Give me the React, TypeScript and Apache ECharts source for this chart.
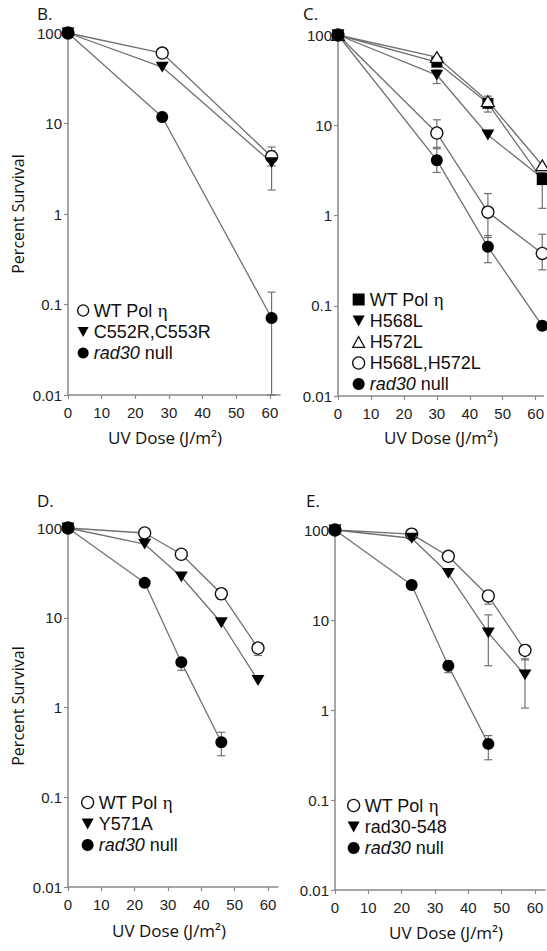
import React, { useEffect, useRef } from 'react';
import * as echarts from 'echarts';

// ---------- Data ----------
// Panel B
const bDose = [0, 28, 60.5];
const bWT = [100, 60, 4.3];
const bC552 = [100, 42, 3.7];
const bRad30 = [100, 11.8, 0.071];
const bErr = [
  [60.5, 3.4, 5.5],
  [60.5, 1.84, 5.0],
  [60.5, 0.01, 0.137],
];

// Panel C
const cDose = [0, 30, 45.5, 62];
const cWT = [100, 50, 17.5, 2.5];
const cH568 = [100, 36, 7.8, 2.6];
const cH572 = [100, 57, 18.5, 3.6];
const cH568H572 = [100, 8.2, 1.09, 0.38];
const cRad30 = [100, 4.1, 0.45, 0.06];
const cErr = [
  [30, 45, 56],
  [45.5, 14, 21],
  [30, 29, 41],
  [30, 5.7, 11.5],
  [45.5, 0.57, 1.75],
  [62, 0.25, 0.62],
  [30, 3.0, 5.5],
  [45.5, 0.3, 0.6],
  [62, 1.2, 3.0],
];

// Panel D
const dDose = [0, 23, 34, 46, 57];
const dWT = [100, 88, 51, 18.5, 4.6];
const dY571A = [100, 66, 28.6, 8.8, 2.0];
const dRad30 = [100, 24.5, 3.2, 0.41];
const dErr = [
  [46, 16, 21],
  [57, 3.8, 5.2],
  [34, 2.6, 3.5],
  [46, 0.29, 0.53],
];

// Panel E
const eDose = [0, 23, 34, 46, 57];
const eWT = [100, 90, 51, 18.5, 4.6];
const eRad548 = [100, 81, 33, 7.2, 2.45];
const eRad30 = [100, 24.5, 3.1, 0.42];
const eErr = [
  [46, 15, 21],
  [57, 3.6, 5.0],
  [46, 3.1, 11.4],
  [57, 1.05, 3.7],
  [34, 2.6, 3.5],
  [46, 0.28, 0.52],
];

const xTicks = [0, 10, 20, 30, 40, 50, 60];
const yTickLabels = ['0.01', '0.1', '1', '10', '100'];

// ---------- Styles ----------
const TRI_DOWN = 'path://M0,0L10,0L5,9Z';
const TRI_UP = 'path://M5,0L10,9L0,9Z';
const LINE_COLOR = '#717171';
const AXIS_COLOR = '#8a8a8a';

const mk: Record<string, any> = {
  openCircle: { symbol: 'circle', symbolSize: 12, itemStyle: { color: '#fff', borderColor: '#111', borderWidth: 1.3 } },
  dot: { symbol: 'circle', symbolSize: 12, itemStyle: { color: '#000', borderWidth: 0 } },
  down: { symbol: TRI_DOWN, symbolSize: [13, 12], itemStyle: { color: '#000', borderWidth: 0 } },
  square: { symbol: 'rect', symbolSize: 11, itemStyle: { color: '#000', borderWidth: 0 } },
  openTri: { symbol: TRI_UP, symbolSize: [13, 12], itemStyle: { color: '#fff', borderColor: '#111', borderWidth: 1.2 } },
};
const legendIcon: Record<string, string> = {
  openCircle: 'circle', dot: 'circle', down: TRI_DOWN, square: 'rect', openTri: TRI_UP,
};

const grids = [
  { left: 68, top: 33, width: 212, height: 362, xmax: 63 },
  { left: 338, top: 35, width: 209, height: 361, xmax: 62.4 },
  { left: 68, top: 528, width: 210, height: 359, xmax: 63 },
  { left: 335, top: 530, width: 210, height: 360, xmax: 63 },
];

type S = { name: string; dose: number[]; vals: number[]; m: string };
const panels: {
  series: S[];
  err: number[][];
  legend: { left: number; top: number; iw: number; ih: number; gap: number };
}[] = [
  {
    series: [
      { name: 'WT Pol η', dose: bDose, vals: bWT, m: 'openCircle' },
      { name: 'C552R,C553R', dose: bDose, vals: bC552, m: 'down' },
      { name: 'rad30 null', dose: bDose, vals: bRad30, m: 'dot' },
    ],
    err: bErr,
    legend: { left: 72, top: 296, iw: 11, ih: 11, gap: 8 },
  },
  {
    series: [
      { name: 'WT Pol η', dose: cDose, vals: cWT, m: 'square' },
      { name: 'H568L', dose: cDose, vals: cH568, m: 'down' },
      { name: 'H572L', dose: cDose, vals: cH572, m: 'openTri' },
      { name: 'H568L,H572L', dose: cDose, vals: cH568H572, m: 'openCircle' },
      { name: 'rad30 null', dose: cDose, vals: cRad30, m: 'dot' },
    ],
    err: cErr,
    legend: { left: 347, top: 285, iw: 12, ih: 12, gap: 4 },
  },
  {
    series: [
      { name: 'WT Pol η', dose: dDose, vals: dWT, m: 'openCircle' },
      { name: 'Y571A', dose: dDose, vals: dY571A, m: 'down' },
      { name: 'rad30 null', dose: dDose, vals: dRad30, m: 'dot' },
    ],
    err: dErr,
    legend: { left: 76, top: 788, iw: 12, ih: 12, gap: 6 },
  },
  {
    series: [
      { name: 'WT Pol η', dose: eDose, vals: eWT, m: 'openCircle' },
      { name: 'rad30-548', dose: eDose, vals: eRad548, m: 'down' },
      { name: 'rad30 null', dose: eDose, vals: eRad30, m: 'dot' },
    ],
    err: eErr,
    legend: { left: 342, top: 791, iw: 12, ih: 12, gap: 4 },
  },
];

const legendFmt = (name: string) => {
  if (name === 'rad30 null') return '{i|rad30} null';
  if (name === 'WT Pol η') return 'WT Pol {g|η}';
  return name;
};

function buildOption() {
  const grid: any[] = [];
  const xAxis: any[] = [];
  const yAxis: any[] = [];
  const series: any[] = [];
  const legend: any[] = [];

  grids.forEach((g, gi) => {
    grid.push({ left: g.left, top: g.top, width: g.width, height: g.height, containLabel: false });
    xAxis.push({
      type: 'value', gridIndex: gi, min: 0, max: g.xmax,
      axisLine: { lineStyle: { color: AXIS_COLOR, width: 1.5 } },
      axisTick: { show: true, length: 4, customValues: xTicks, lineStyle: { color: AXIS_COLOR, width: 1.2 } },
      axisLabel: {
        customValues: xTicks, margin: 10, fontFamily: 'Liberation Sans', fontSize: 15, color: '#222',
        formatter: (v: number) => (v % 10 === 0 ? String(v) : ''),
      },
      splitLine: { show: false },
    });
    yAxis.push({
      type: 'log', logBase: 10, gridIndex: gi, min: 0.01, max: 100,
      axisLine: { show: true, lineStyle: { color: AXIS_COLOR, width: 1.5 } },
      axisTick: { show: true, length: 4, lineStyle: { color: AXIS_COLOR, width: 1.2 } },
      axisLabel: {
        margin: 6, fontFamily: 'Liberation Sans', fontSize: 15, color: '#222',
        formatter: (v: number) => {
          const s = String(Number(v.toPrecision(3)));
          return yTickLabels.includes(s) ? s : '';
        },
      },
      splitLine: { show: false },
    });

    const p = panels[gi];
    series.push({
      type: 'custom', xAxisIndex: gi, yAxisIndex: gi, z: 2, silent: true,
      data: p.err,
      encode: { x: 0, y: [1, 2] },
      renderItem: (params: any, api: any) => {
        const x = api.value(0);
        const lo = api.value(1);
        const hi = api.value(2);
        const a = api.coord([x, hi]);
        const b = api.coord([x, lo]);
        const cap = 4;
        const st = { stroke: LINE_COLOR, lineWidth: 1.2 };
        return {
          type: 'group',
          children: [
            { type: 'line', shape: { x1: a[0], y1: a[1], x2: b[0], y2: b[1] }, style: st },
            { type: 'line', shape: { x1: a[0] - cap, y1: a[1], x2: a[0] + cap, y2: a[1] }, style: st },
            { type: 'line', shape: { x1: b[0] - cap, y1: b[1], x2: b[0] + cap, y2: b[1] }, style: st },
          ],
        };
      },
    });
    p.series.forEach((s) => {
      const m = mk[s.m];
      series.push({
        type: 'line', name: s.name, xAxisIndex: gi, yAxisIndex: gi, z: 3,
        data: s.vals.map((v, i) => [s.dose[i], v]),
        symbol: m.symbol, symbolSize: m.symbolSize, symbolKeepAspect: true,
        showAllSymbol: true,
        itemStyle: m.itemStyle,
        lineStyle: { color: LINE_COLOR, width: 1.3 },
        emphasis: { disabled: true },
      });
    });
    legend.push({
      orient: 'vertical', left: p.legend.left, top: p.legend.top,
      itemWidth: p.legend.iw, itemHeight: p.legend.ih, itemGap: 3, itemTextGap: p.legend.gap,
      selectedMode: false,
      formatter: legendFmt,
      textStyle: {
        fontFamily: 'Liberation Sans', fontSize: 18, color: '#111', lineHeight: 18,
        rich: {
          i: { fontFamily: 'Liberation Sans', fontSize: 18, fontStyle: 'italic', color: '#111', lineHeight: 18 },
          g: { fontFamily: 'Liberation Serif', fontSize: 19, color: '#111', lineHeight: 18 },
        },
      },
      data: p.series.map((s) => {
        const st = mk[s.m].itemStyle;
        return {
          name: s.name,
          icon: legendIcon[s.m],
          itemStyle: { color: st.color, borderColor: st.borderColor || st.color, borderWidth: st.borderWidth || 0 },
        };
      }),
    });
  });

  const titleFont = { fontFamily: 'Open Sans', fontSize: 16, fill: '#111' };
  const xTitle = { ...titleFont, fontSize: 17, align: 'center', verticalAlign: 'middle' };
  const graphic: any[] = [
    { type: 'text', left: 37, top: 5, style: { text: 'B.', ...titleFont, fontSize: 17 } },
    { type: 'text', left: 303, top: 5, style: { text: 'C.', ...titleFont, fontSize: 17 } },
    { type: 'text', left: 37, top: 492, style: { text: 'D.', ...titleFont, fontSize: 17 } },
    { type: 'text', left: 306, top: 492, style: { text: 'E.', ...titleFont, fontSize: 17 } },
    { type: 'text', x: 165, y: 437, style: { text: 'UV Dose (J/m²)', ...xTitle } },
    { type: 'text', x: 441, y: 437, style: { text: 'UV Dose (J/m²)', ...xTitle } },
    { type: 'text', x: 169, y: 930, style: { text: 'UV Dose (J/m²)', ...xTitle } },
    { type: 'text', x: 446, y: 932, style: { text: 'UV Dose (J/m²)', ...xTitle } },
    { type: 'text', x: 18, y: 214, rotation: Math.PI / 2, style: { text: 'Percent Survival', ...titleFont, align: 'center', verticalAlign: 'middle' } },
    { type: 'text', x: 18, y: 706, rotation: Math.PI / 2, style: { text: 'Percent Survival', ...titleFont, align: 'center', verticalAlign: 'middle' } },
  ];

  return {
    animation: false,
    backgroundColor: '#ffffff',
    grid, xAxis, yAxis, series, legend, graphic,
  };
}

export default function App() {
  const ref = useRef<HTMLDivElement>(null);
  useEffect(() => {
    if (!ref.current) return;
    const chart = echarts.init(ref.current, undefined, { renderer: 'svg' });
    chart.setOption(buildOption() as any);
    return () => chart.dispose();
  }, []);
  return (
    <div
      ref={ref}
      style={{ position: 'absolute', left: 0, top: 0, width: 547, height: 951, background: '#fff' }}
    />
  );
}
